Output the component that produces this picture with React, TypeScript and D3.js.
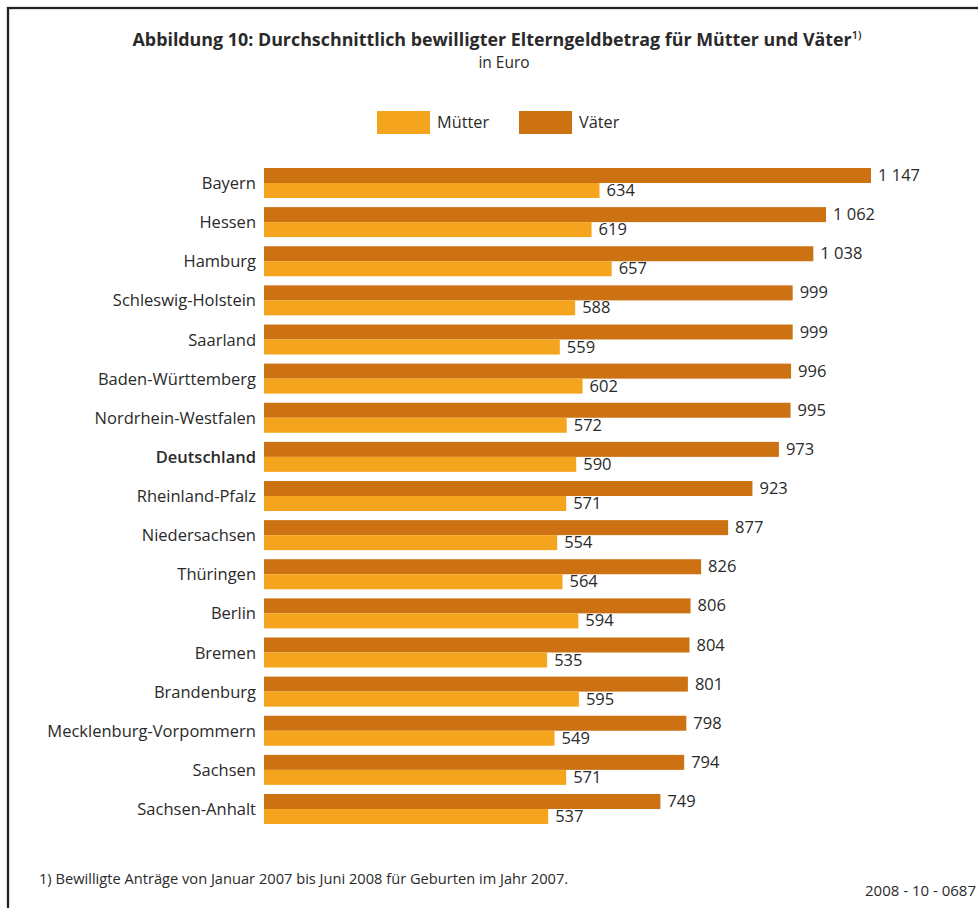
import React from "react";
import * as d3 from "d3";

const categories = [
  "Bayern", "Hessen", "Hamburg", "Schleswig-Holstein", "Saarland",
  "Baden-Württemberg", "Nordrhein-Westfalen", "Deutschland", "Rheinland-Pfalz",
  "Niedersachsen", "Thüringen", "Berlin", "Bremen", "Brandenburg",
  "Mecklenburg-Vorpommern", "Sachsen", "Sachsen-Anhalt",
];
const vaeter = [1147, 1062, 1038, 999, 999, 996, 995, 973, 923, 877, 826, 806, 804, 801, 798, 794, 749];
const muetter = [634, 619, 657, 588, 559, 602, 572, 590, 571, 554, 564, 594, 535, 595, 549, 571, 537];
const seriesNames = ["Mütter", "Väter"];
const boldCategory = "Deutschland";

const title = "Abbildung 10: Durchschnittlich bewilligter Elterngeldbetrag für Mütter und Väter";
const titleSup = "1)";
const subtitle = "in Euro";
const footnote = "1) Bewilligte Anträge von Januar 2007 bis Juni 2008 für Geburten im Jahr 2007.";
const code = "2008 - 10 - 0687";

const COL_M = "#F5A51D";
const COL_V = "#CC7213";
const TXT = "#2a2a2a";
const FONT = "'Open Sans', 'Noto Sans', sans-serif";

const W = 978;
const H = 908;

const locale = d3.formatLocale({ decimal: ",", thousands: "\u2009", grouping: [3], currency: ["", " €"] });
const fmt = (v: number) => locale.format(",")(v).replace("\u2009", " ");

export default function App() {
  const x = d3.scaleLinear().domain([0, 1147]).range([264, 871]);
  const y = d3
    .scaleBand<string>()
    .domain(categories)
    .range([168, 168 + 16 * 39.125 + 30])
    .paddingInner(1 - 30 / 39.125)
    .paddingOuter(0)
    .align(0);
  const bh = y.bandwidth() / 2;

  return (
    <svg
      width={W}
      height={H}
      style={{ position: "absolute", left: 0, top: 0, background: "#fff" }}
      fontFamily={FONT}
    >
      <rect x={0} y={0} width={W} height={H} fill="#fff" />
      {/* frame */}
      <path d={`M8,${H + 5} L8,8 L${W + 5},8`} fill="none" stroke="#bbb" strokeWidth={3} />
      <path d={`M8,${H + 5} L8,8 L${W + 5},8`} fill="none" stroke="#222" strokeWidth={2} />

      {/* title */}
      <text x={497} y={46} textAnchor="middle" fontSize={17.85} fontWeight={700} fill={TXT}>
        {title}
        <tspan fontSize={11} dy={-7} fontWeight={600}>{titleSup}</tspan>
      </text>
      <text x={504} y={68} textAnchor="middle" fontSize={15.5} fill={TXT}>
        {subtitle}
      </text>

      {/* legend */}
      <rect x={377} y={111} width={53} height={23} fill={COL_M} />
      <text x={437} y={128} fontSize={16.3} fill={TXT}>{seriesNames[0]}</text>
      <rect x={519} y={111} width={53} height={23} fill={COL_V} />
      <text x={579} y={128} fontSize={16.3} fill={TXT}>{seriesNames[1]}</text>

      {/* bars */}
      {categories.map((c, i) => {
        const y0 = y(c) as number;
        return (
          <g key={c}>
            <text
              x={256}
              y={y0 + bh + 6}
              textAnchor="end"
              fontSize={16.5}
              fontWeight={c === boldCategory ? 600 : 400}
              fill={TXT}
            >
              {c}
            </text>
            <rect x={x(0)} y={y0} width={x(vaeter[i]) - x(0)} height={bh} fill={COL_V} />
            <rect x={x(0)} y={y0 + bh} width={x(muetter[i]) - x(0)} height={bh} fill={COL_M} />
            <text x={x(vaeter[i]) + 7} y={y0 + bh - 2} fontSize={16.5} fill={TXT}>
              {fmt(vaeter[i])}
            </text>
            <text x={x(muetter[i]) + 7} y={y0 + 2 * bh - 2} fontSize={16.5} fill={TXT}>
              {fmt(muetter[i])}
            </text>
          </g>
        );
      })}

      {/* footer */}
      <text x={39} y={884} fontSize={14.65} fill={TXT}>{footnote}</text>
      <text x={976} y={896} textAnchor="end" fontSize={15} fill={TXT}>{code}</text>
    </svg>
  );
}
